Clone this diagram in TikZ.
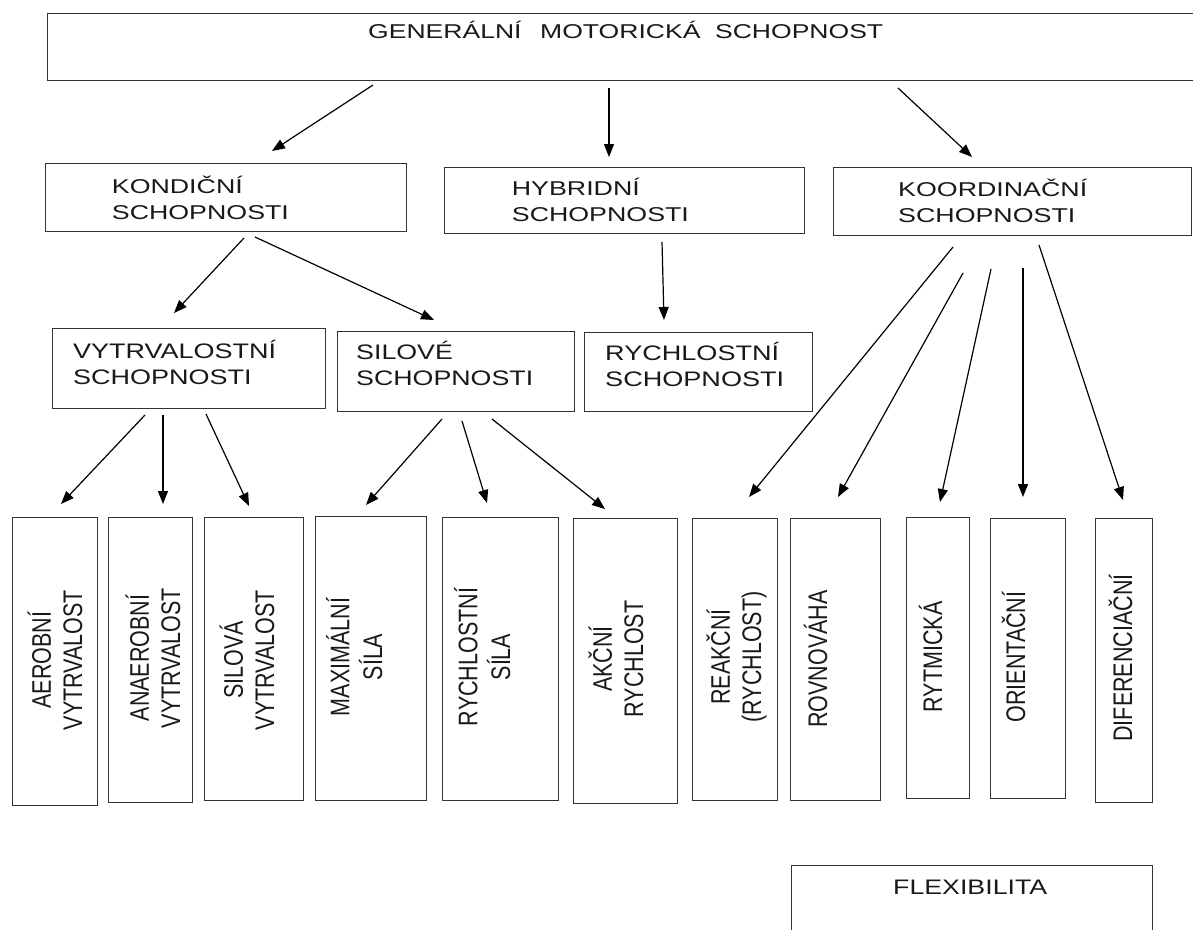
\documentclass[tikz,border=0pt]{standalone}
\usepackage{fontspec}
\setmainfont{Liberation Sans}
\usepackage{graphicx}
\usetikzlibrary{arrows.meta}
\newcommand{\twoL}[2]{\begin{tabular}[t]{@{}l@{}}#1\\#2\end{tabular}}
\newcommand{\twoC}[2]{\begin{tabular}[b]{@{}c@{}}#1\\#2\end{tabular}}
\begin{document}
\begin{tikzpicture}[x=1pt,y=-1pt,
  box/.style={draw=black!80, line width=1.3pt, inner sep=0pt, anchor=north west},
  arr/.style={draw=black, line width=1.2pt, -{Triangle[length=13pt,width=10pt]}},
  hl/.style={inner sep=0pt, anchor=base west, text=black!90},
  vl/.style={rotate=90, anchor=base, inner sep=0pt, text=black!90, font=\fontsize{21.5}{25}\selectfont}]
\clip (0,0) rectangle (1193,929);
\fill[white] (0,0) rectangle (1193,929);

% ---- boxes
\node[box, minimum width=1149pt, minimum height=67pt] (top) at (47,13) {};
\node[box, minimum width=361pt, minimum height=68pt] (kond) at (45,163) {};
\node[box, minimum width=360pt, minimum height=66pt] (hyb) at (444,167) {};
\node[box, minimum width=358pt, minimum height=68pt] (koord) at (833,167) {};
\node[box, minimum width=273pt, minimum height=80pt] (vytr) at (52,328) {};
\node[box, minimum width=237pt, minimum height=80pt] (sil) at (337,331) {};
\node[box, minimum width=228pt, minimum height=79pt] (rych) at (584,332) {};
\node[box, minimum width=85pt, minimum height=288pt] (b1) at (12,517) {};
\node[box, minimum width=84pt, minimum height=285pt] (b2) at (108,517) {};
\node[box, minimum width=99pt, minimum height=283pt] (b3) at (204,517) {};
\node[box, minimum width=111pt, minimum height=284pt] (b4) at (315,516) {};
\node[box, minimum width=116pt, minimum height=283pt] (b5) at (442,517) {};
\node[box, minimum width=104pt, minimum height=285pt] (b6) at (573,518) {};
\node[box, minimum width=85pt, minimum height=282pt] (b7) at (692,518) {};
\node[box, minimum width=90pt, minimum height=282pt] (b8) at (790,518) {};
\node[box, minimum width=63pt, minimum height=281pt] (b9) at (906,517) {};
\node[box, minimum width=75pt, minimum height=280pt] (b10) at (990,518) {};
\node[box, minimum width=57pt, minimum height=284pt] (b11) at (1095,518) {};
\node[box, minimum width=361pt, minimum height=100pt] (flex) at (791,865) {};

% ---- horizontal texts
\node[hl, font=\fontsize{20}{26}\selectfont] (topT) at (368,38.3)
  {\resizebox{515pt}{\height}{GENERÁLNÍ\hspace{14pt}MOTORICKÁ\hspace{11pt}SCHOPNOST}};
\node[hl, font=\fontsize{20}{26}\selectfont] (kondT) at (111.7,193.3)
  {\resizebox{177pt}{\height}{\twoL{KONDIČNÍ}{SCHOPNOSTI}}};
\node[hl, font=\fontsize{20}{26}\selectfont] (hybT) at (511.7,195)
  {\resizebox{177pt}{\height}{\twoL{HYBRIDNÍ}{SCHOPNOSTI}}};
\node[hl, font=\fontsize{20}{26}\selectfont] (koordT) at (898,196)
  {\resizebox{189pt}{\height}{\twoL{KOORDINAČNÍ}{SCHOPNOSTI}}};
\node[hl, font=\fontsize{21}{26}\selectfont] (vytrT) at (73,358)
  {\resizebox{203pt}{\height}{\twoL{VYTRVALOSTNÍ}{SCHOPNOSTI}}};
\node[hl, font=\fontsize{21}{26}\selectfont] (silT) at (356,359)
  {\resizebox{177pt}{\height}{\twoL{SILOVÉ}{SCHOPNOSTI}}};
\node[hl, font=\fontsize{21}{26}\selectfont] (rychT) at (605,360)
  {\resizebox{179pt}{\height}{\twoL{RYCHLOSTNÍ}{SCHOPNOSTI}}};
\node[hl, font=\fontsize{21}{26}\selectfont] (flexT) at (893,894)
  {\resizebox{154pt}{\height}{FLEXIBILITA}};

% ---- vertical texts
\node[vl] (t1) at (82,660) {\scalebox{1}[1.25]{\twoC{AEROBNÍ}{VYTRVALOST}}};
\node[vl] (t2) at (180,658) {\scalebox{1}[1.25]{\twoC{ANAEROBNÍ}{VYTRVALOST}}};
\node[vl] (t3) at (274,660) {\scalebox{1}[1.25]{\twoC{SILOVÁ}{VYTRVALOST}}};
\node[vl] (t4) at (382,657) {\scalebox{1}[1.25]{\twoC{MAXIMÁLNÍ}{SÍLA}}};
\node[vl] (t5) at (510,657) {\scalebox{1}[1.25]{\twoC{RYCHLOSTNÍ}{SÍLA}}};
\node[vl] (t6) at (643,659) {\scalebox{1}[1.25]{\twoC{AKČNÍ}{RYCHLOST}}};
\node[vl] (t7) at (761,657) {\scalebox{1}[1.25]{\twoC{REAKČNÍ}{(RYCHLOST)}}};
\node[vl] (t8) at (827,659) {\scalebox{1}[1.25]{ROVNOVÁHA}};
\node[vl] (t9) at (942,657) {\scalebox{1}[1.25]{RYTMICKÁ}};
\node[vl] (t10) at (1025,657) {\scalebox{1}[1.25]{ORIENTAČNÍ}};
\node[vl] (t11) at (1132,658) {\scalebox{1}[1.25]{DIFERENCIAČNÍ}};

% ---- arrow end points
\coordinate (s1) at (373,85);  \coordinate (e1) at (272,151);
\coordinate (s2) at (609,88);  \coordinate (e2) at (609,157);
\coordinate (s3) at (898,88);  \coordinate (e3) at (972,157);
\coordinate (s4) at (244,238); \coordinate (e4) at (174,313);
\coordinate (s5) at (255,237); \coordinate (e5) at (434,320);
\coordinate (s6) at (662,242); \coordinate (e6) at (664,320);
\coordinate (s7) at (953,247); \coordinate (e7) at (749,497);
\coordinate (s8) at (963,273); \coordinate (e8) at (838,497);
\coordinate (s9) at (991,269); \coordinate (e9) at (940,502);
\coordinate (s10) at (1023,268); \coordinate (e10) at (1023,497);
\coordinate (s11) at (1039,245); \coordinate (e11) at (1123,500);
\coordinate (s12) at (145,415); \coordinate (e12) at (61,504);
\coordinate (s13) at (163,415); \coordinate (e13) at (163,504);
\coordinate (s14) at (206,414); \coordinate (e14) at (249,506);
\coordinate (s15) at (442,419); \coordinate (e15) at (366,505);
\coordinate (s16) at (462,421); \coordinate (e16) at (487,503);
\coordinate (s17) at (492,419); \coordinate (e17) at (605,509);

\foreach \i in {1,...,17} { \draw[arr] (s\i) -- (e\i); }
\end{tikzpicture}
\end{document}
